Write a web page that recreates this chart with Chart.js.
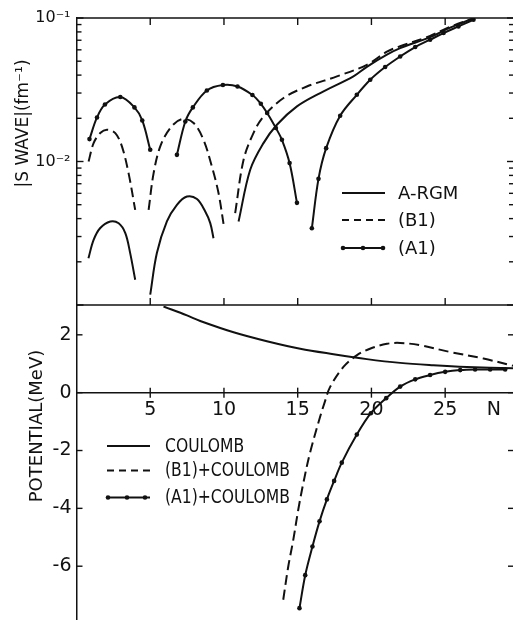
<!DOCTYPE html>
<html><head><meta charset="utf-8">
<script src="https://cdn.jsdelivr.net/npm/chart.js@4/dist/chart.umd.min.js"></script>
<style>
html,body{margin:0;padding:0;background:#fff;}
#wrap{position:relative;width:513px;height:620px;overflow:hidden;background:#fff;}
#c1{position:absolute;left:0;top:0;}
#c2{position:absolute;left:0;top:300px;}
</style></head><body>
<div id="wrap"><canvas id="c1" width="513" height="306"></canvas><canvas id="c2" width="513" height="320"></canvas></div>
<script>
// ---------- data (null = break between branches) ----------
// upper panel: |S wave| (fm^-1) versus N
const argmN = [0.81,1.16,1.61,2.29,2.86,3.31,3.64,3.98, null, 5.0,5.45,6.13,6.81,7.49,8.17,8.73,9.07,9.29, null, 10.99,11.78,12.68,13.59,14.95,16.53,18.78,19.69,21.05,21.95,23.98,25.34,26.98];
const argmS = [0.00212,0.00284,0.00344,0.00382,0.00371,0.00317,0.00230,0.00150, null, 0.00118,0.00230,0.00382,0.00499,0.00570,0.00547,0.00448,0.00372,0.00292, null, 0.00382,0.00875,0.01343,0.01803,0.0242,0.0300,0.0392,0.0457,0.0555,0.0616,0.0735,0.0856,0.100];
const b1N = [0.82,1.16,1.61,2.06,2.63,3.08,3.53,3.98, null, 4.89,5.23,5.68,6.36,7.15,7.94,8.61,9.18,9.63,9.97, null, 10.76,11.33,12.0,12.68,14.04,15.62,17.66,19.69,21.05,21.95,23.98,25.12,26.98];
const b1S = [0.0100,0.01343,0.01578,0.01663,0.01578,0.01274,0.00830,0.00460, null, 0.00460,0.00830,0.01274,0.01711,0.01977,0.01854,0.01417,0.00922,0.00603,0.00368, null, 0.00437,0.01028,0.01578,0.0206,0.0277,0.0333,0.0392,0.0472,0.0582,0.0636,0.0750,0.0851,0.100];
const a1N = [0.88,1.39,1.93,2.97,3.93,4.46,5.0, null, 6.81,7.38,7.89,8.84,9.93,10.92,11.93,12.5,12.93,13.52,13.93,14.45,14.95, null, 15.96,16.41,16.93,17.88,19.01,19.92,20.93,21.95,22.97,23.98,24.89,25.9,26.92];
const a1S = [0.01432,0.02028,0.02496,0.02812,0.02382,0.01932,0.01207, null, 0.01113,0.01901,0.02382,0.03127,0.03411,0.03334,0.02904,0.02523,0.02178,0.01711,0.01417,0.00975,0.00515, null, 0.00343,0.00757,0.01239,0.02084,0.02917,0.03715,0.04553,0.05395,0.06277,0.07060,0.07856,0.08735,0.09727];
// lower panel: potential (MeV) versus N
const coulN = [5.9,7.49,8.39,10.65,12.91,15.17,17.43,19.69,21.95,24.2,26.47,29.6];
const coulV = [2.98,2.67,2.48,2.09,1.78,1.52,1.33,1.16,1.03,0.95,0.89,0.84];
const b1cN = [14.02,14.36,14.70,15.04,15.38,15.83,16.51,16.85,17.2,18.1,19.0,19.9,21.05,21.95,23.3,25.3,27.6,29.6];
const b1cV = [-7.16,-6.01,-5.09,-4.04,-3.13,-2.09,-0.85,-0.3,0.2,0.89,1.29,1.52,1.69,1.72,1.64,1.41,1.18,0.93];
const a1cN = [15.12,15.51,16.0,16.48,16.98,17.47,17.99,19.01,19.96,21.0,21.95,22.97,23.98,25.0,26.02,27.03,28.05,29.07];
const a1cV = [-7.45,-6.31,-5.32,-4.45,-3.69,-3.05,-2.42,-1.45,-0.71,-0.19,0.21,0.46,0.61,0.72,0.78,0.80,0.80,0.80];
// ticks and labels
const xTickVals = [5,10,15,20,25];
const xAxisName = 'N';
const xAxisNameAt = 28.3;
const sLabelVals = [0.01, 0.1];
const sLabelText = ['10\u207B\u00B2', '10\u207B\u00B9'];
const pTickVals = [-6,-4,-2,0,2];
const topLabels = ['A-RGM', '(B1)', '(A1)'];
const botLabels = ['COULOMB', '(B1)+COULOMB', '(A1)+COULOMB'];
const topTitle = '|S WAVE|(fm\u207B\u00B9)';
const botTitle = 'POTENTIAL(MeV)';

// ---------- styling ----------
const INK = '#111';
const FONT = "'DejaVu Sans', sans-serif";
const XMIN = 0, XMAX = 29.6;
Chart.defaults.font.family = FONT;
Chart.defaults.color = INK;

function pts(ns, vs) { return ns.map((n, i) => ({ x: n === null ? null : n, y: vs[i] })); }
function seg(ctx, x1, y1, x2, y2) { ctx.beginPath(); ctx.moveTo(x1, y1); ctx.lineTo(x2, y2); ctx.stroke(); }
function isPow10(v) { const l = Math.log10(v); return Math.abs(l - Math.round(l)) < 1e-6; }
function noPad(s) { s.paddingTop = 0; s.paddingBottom = 0; s.paddingLeft = 0; s.paddingRight = 0; }

function drawLegend(chart, labels, rows, x1, x2, tx, dots, font, squeeze) {
  const ctx = chart.ctx;
  chart.data.datasets.forEach((ds, i) => {
    const yy = rows[i];
    ctx.save();
    ctx.strokeStyle = ds.borderColor; ctx.lineWidth = ds.borderWidth;
    ctx.setLineDash(ds.borderDash && ds.borderDash.length ? [7, 5] : []);
    seg(ctx, x1, yy, x2, yy);
    ctx.setLineDash([]);
    if (ds.pointRadius > 0) {
      ctx.fillStyle = ds.borderColor;
      dots.forEach(dx => { ctx.beginPath(); ctx.arc(dx, yy, ds.pointRadius, 0, Math.PI * 2); ctx.fill(); });
    }
    ctx.fillStyle = INK; ctx.font = font; ctx.textAlign = 'left'; ctx.textBaseline = 'middle';
    ctx.translate(tx, yy + 1); ctx.scale(squeeze, 1);
    ctx.fillText(labels[i], 0, 0);
    ctx.restore();
  });
}
function drawVTitle(ctx, text, cx, cy, font) {
  ctx.save();
  ctx.fillStyle = INK; ctx.font = font;
  ctx.translate(cx, cy); ctx.rotate(-Math.PI / 2);
  ctx.textAlign = 'center'; ctx.textBaseline = 'middle';
  ctx.fillText(text, 0, 0);
  ctx.restore();
}

const topFrame = {
  id: 'topFrame',
  afterDraw(chart) {
    const { ctx, chartArea: a, scales: { x, y } } = chart;
    ctx.save();
    ctx.strokeStyle = INK; ctx.lineWidth = 1.4;
    seg(ctx, a.left, a.top, a.right, a.top);
    seg(ctx, a.left, a.bottom, a.right, a.bottom);
    xTickVals.forEach(v => {
      const px = x.getPixelForValue(v);
      seg(ctx, px, a.top, px, a.top + 7);
      seg(ctx, px, a.bottom, px, a.bottom - 7);
    });
    y.ticks.forEach(t => {
      const py = y.getPixelForValue(t.value);
      const major = isPow10(t.value);
      seg(ctx, a.left, py, a.left + (major ? 7 : 5), py);
      seg(ctx, a.right, py, a.right - (major ? 6 : 4), py);
    });
    ctx.restore();
    drawVTitle(ctx, topTitle, 23.5, 123.5, '17px ' + FONT);
    drawLegend(chart, topLabels, [193, 220, 248], 342, 385, 398, [343, 363, 383], '18px ' + FONT, 1);
  }
};

const botFrame = {
  id: 'botFrame',
  afterDraw(chart) {
    const { ctx, chartArea: a, scales: { x, y } } = chart;
    ctx.save();
    ctx.strokeStyle = INK; ctx.lineWidth = 1.4;
    const y0 = y.getPixelForValue(0);
    xTickVals.forEach(v => {
      const px = x.getPixelForValue(v);
      seg(ctx, px, y0 - 5, px, y0 + 5);
    });
    pTickVals.forEach(v => {
      const py = y.getPixelForValue(v);
      seg(ctx, a.left, py, a.left + 6, py);
      seg(ctx, a.right, py, a.right - 5, py);
    });
    ctx.restore();
    drawVTitle(ctx, botTitle, 37.5, 126, '18px ' + FONT);
    drawLegend(chart, botLabels, [146, 170.5, 197.5], 107, 150, 165, [108, 127, 145], '19px ' + FONT, 0.82);
  }
};

const lineBase = { borderColor: INK, borderWidth: 2, fill: false, tension: 0.35, spanGaps: false, pointBorderWidth: 0, pointBackgroundColor: INK, pointHoverRadius: 0 };

new Chart(document.getElementById('c1'), {
  type: 'line',
  data: { datasets: [
    Object.assign({ label: topLabels[0], data: pts(argmN, argmS), pointRadius: 0, borderDash: [] }, lineBase),
    Object.assign({ label: topLabels[1], data: pts(b1N, b1S), pointRadius: 0, borderDash: [10, 5] }, lineBase),
    Object.assign({ label: topLabels[2], data: pts(a1N, a1S), pointRadius: 2.3, borderDash: [] }, lineBase)
  ] },
  options: {
    responsive: false, animation: false, devicePixelRatio: 1,
    layout: { autoPadding: false, padding: { top: 18, right: 0, bottom: 1, left: 0 } },
    plugins: { legend: { display: false }, tooltip: { enabled: false } },
    events: [],
    scales: {
      x: { type: 'linear', min: XMIN, max: XMAX, display: false,
           afterFit: noPad,
           afterBuildTicks: s => { s.ticks = xTickVals.map(v => ({ value: v })); } },
      y: { type: 'logarithmic', min: 0.001, max: 0.1,
           afterFit: s => { s.width = 76.5; noPad(s); },
           afterBuildTicks: s => {
             const t = [];
             for (let e = -3; e <= -2; e++) for (let m = 1; m <= 9; m++) t.push({ value: m * Math.pow(10, e) });
             t.push({ value: 0.1 });
             s.ticks = t;
           },
           grid: { display: false, drawTicks: false },
           border: { display: true, color: INK, width: 1.5 },
           ticks: { autoSkip: false, padding: 6, color: INK, font: { size: 16, family: FONT },
                    callback: v => { const i = sLabelVals.findIndex(s => Math.abs(s - v) < 1e-9); return i >= 0 ? sLabelText[i] : ''; } } }
    }
  },
  plugins: [topFrame]
});

new Chart(document.getElementById('c2'), {
  type: 'line',
  data: { datasets: [
    Object.assign({ label: botLabels[0], data: pts(coulN, coulV), pointRadius: 0, borderDash: [] }, lineBase),
    Object.assign({ label: botLabels[1], data: pts(b1cN, b1cV), pointRadius: 0, borderDash: [10, 5] }, lineBase),
    Object.assign({ label: botLabels[2], data: pts(a1cN, a1cV), pointRadius: 2.3, borderDash: [] }, lineBase)
  ] },
  options: {
    responsive: false, animation: false, devicePixelRatio: 1,
    layout: { autoPadding: false, padding: { top: 5.9, right: 0, bottom: 0, left: 0 } },
    plugins: { legend: { display: false }, tooltip: { enabled: false } },
    events: [],
    scales: {
      x: { type: 'linear', min: XMIN, max: XMAX, position: { y: 0 },
           afterFit: noPad,
           afterBuildTicks: s => { s.ticks = xTickVals.map(v => ({ value: v })).concat([{ value: xAxisNameAt }]); },
           grid: { display: false, drawTicks: false },
           border: { display: true, color: INK, width: 1.5 },
           ticks: { autoSkip: false, maxRotation: 0, padding: 6, color: INK, font: { size: 19, family: FONT },
                    callback: v => (Math.abs(v - xAxisNameAt) < 1e-9 ? xAxisName : String(v)) } },
      y: { type: 'linear', min: -7.86, max: 3,
           afterFit: s => { s.width = 76.5; noPad(s); },
           afterBuildTicks: s => { s.ticks = pTickVals.map(v => ({ value: v })); },
           grid: { display: false, drawTicks: false },
           border: { display: true, color: INK, width: 1.5 },
           ticks: { autoSkip: false, padding: 5, color: INK, font: { size: 19, family: FONT },
                    callback: v => String(v) } }
    }
  },
  plugins: [botFrame]
});
</script>
</body></html>
